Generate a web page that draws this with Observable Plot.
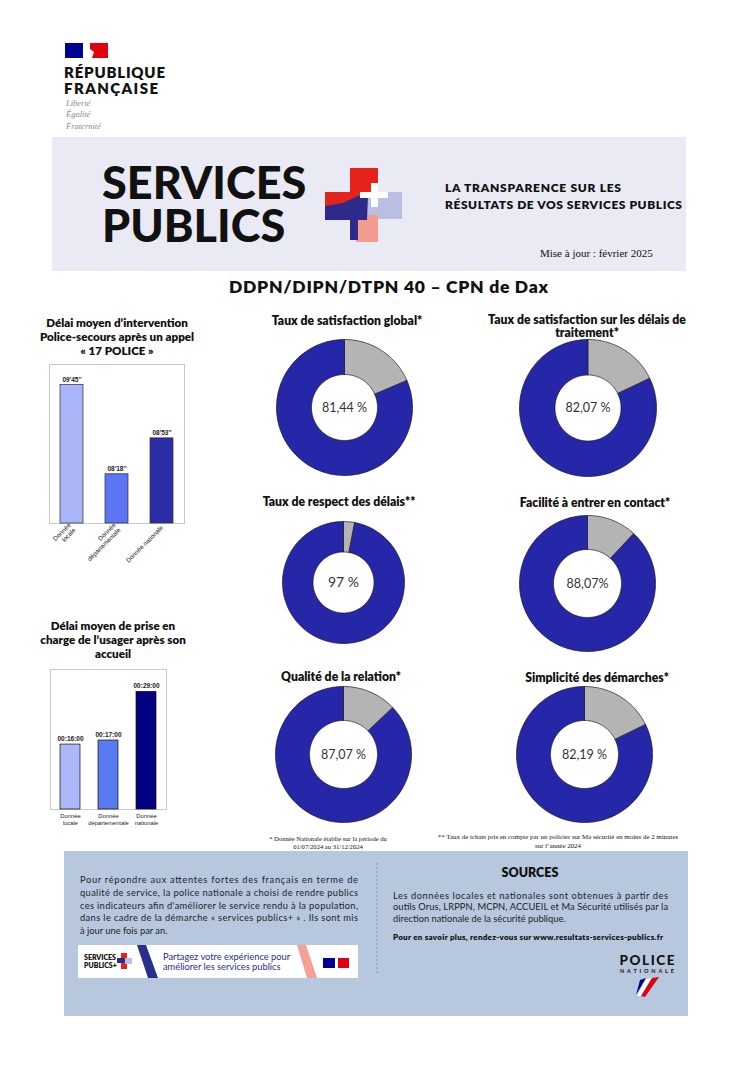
<!DOCTYPE html>
<html lang="fr"><head><meta charset="utf-8">
<script src="https://cdn.jsdelivr.net/npm/d3@7"></script>
<script src="https://cdn.jsdelivr.net/npm/@observablehq/plot@0.6"></script>
<style>
html,body{margin:0;padding:0;background:#fff;}
#page{position:relative;width:751px;height:1070px;overflow:hidden;font-family:Lato,"Open Sans",sans-serif;}
#page svg{position:absolute;overflow:visible;}
#sp{position:absolute;left:102px;top:161px;width:215px;font:900 45px/43px Lato,"Open Sans",sans-serif;letter-spacing:0px;color:#111;}
</style></head>
<body><div id="page"></div>
<script>
// ---------- DATA ----------
const barCats1 = ["Donnée\nlocale", "Donnée\ndépartementale", "Donnée nationale"];
const barLabels1 = ["09'45''", "08'18''", "08'53''"];
const barSeconds1 = [585, 498, 533];
const barDomain1 = [450, 605];
const barColors1 = ["#a9b5f7", "#5b75f3", "#2a2da6"];

const barCats2 = ["Donnée\nlocale", "Donnée\ndépartementale", "Donnée\nnationale"];
const barLabels2 = ["00:16:00", "00:17:00", "00:29:00"];
const barMinutes2 = [16, 17, 29];
const barDomain2 = [0, 34.5];
const barColors2 = ["#aab8f8", "#5a7af0", "#000080"];

const donutTitles = [
  ["Taux de satisfaction global*"],
  ["Taux de satisfaction sur les délais de", "traitement*"],
  ["Taux de respect des délais**"],
  ["Facilité à entrer en contact*"],
  ["Qualité de la relation*"],
  ["Simplicité des démarches*"]
];
const donutValues = [81.44, 82.07, 97, 88.07, 87.07, 82.19];
const donutLabels = ["81,44 %", "82,07 %", "97 %", "88,07%", "87,07 %", "82,19 %"];
const donutParts = ["part", "reste"];
const donutColors = ["#2626a8", "#b4b4b4"];

// ---------- LAYOUT ----------
const donutLayout = [
  {cx: 344, cy: 407, r: 68, ri: 33, tx: 347, ty: 325, fs: 12.5},
  {cx: 587.5, cy: 407, r: 68.5, ri: 33, tx: 587, ty: 324, fs: 12.5},
  {cx: 343, cy: 582, r: 61, ri: 30.5, tx: 339, ty: 506, fs: 14},
  {cx: 587, cy: 583, r: 68, ri: 34, tx: 595, ty: 507, fs: 12.5},
  {cx: 343, cy: 754, r: 68, ri: 34, tx: 341, ty: 681, fs: 12.5},
  {cx: 584, cy: 754, r: 68, ri: 34, tx: 597, ty: 682, fs: 12.5}
];

const page = document.getElementById("page");
const F = "Lato, 'Open Sans', sans-serif";
const SERIF = "'Liberation Serif', 'DejaVu Serif', serif";

function attrs(o) {
  const a = [`font-size="${o.size || 12}"`, `font-weight="${o.weight || 400}"`,
    `font-family="${o.family || F}"`, `fill="${o.fill || '#111'}"`,
    `text-anchor="${o.anchor || 'start'}"`];
  if (o.style) a.push(`font-style="${o.style}"`);
  if (o.ls) a.push(`letter-spacing="${o.ls}"`);
  return a.join(" ");
}
function T(x, y, s, o = {}) {
  const len = o.len ? ` textLength="${o.len}" lengthAdjust="spacing"` : "";
  return `<text x="${x}" y="${y}" ${attrs(o)}${len}>${s}</text>`;
}
function T2(lines, o = {}) {
  const sp = lines.map(l => `<tspan x="${l.x}" y="${l.y}"${l.len ? ` textLength="${l.len}" lengthAdjust="spacing"` : ""}>${l.s}</tspan>`).join("");
  return `<text ${attrs(o)}>${sp}</text>`;
}

let bg = "";
// République française bloc
bg += `<rect x="65" y="43" width="18" height="15" fill="#000091"/>`;
bg += `<path d="M90,43 H108 V58 H92 L94,52 L90,49 Z" fill="#e1000f"/>`;
bg += T2([{x: 64, y: 78, s: "RÉPUBLIQUE", len: 101}, {x: 64, y: 94, s: "FRANÇAISE", len: 94}], {size: 15, weight: 800});
bg += T2([{x: 66, y: 106, s: "Liberté"}, {x: 66, y: 117, s: "Égalité"}, {x: 66, y: 129, s: "Fraternité"}],
  {size: 8.5, family: SERIF, style: "italic", fill: "#8a8a8a"});

// Banner
bg += `<rect x="52" y="137" width="634" height="134" fill="#e9eaf3"/>`;
// cross logo
bg += `<rect x="350" y="168" width="28" height="26" fill="#e5231b"/>`;
bg += `<rect x="325" y="192" width="35" height="16" fill="#e5231b"/>`;
bg += `<rect x="367" y="192" width="35" height="27" fill="#b9bfe2"/>`;
bg += `<rect x="356" y="215" width="22" height="27" fill="#f19b91"/>`;
bg += `<path d="M325,206 L343,203 L358,196 L368,196 L367,220 L358,220 L358,240 L350,240 L350,220 L325,220 Z" fill="#2d2a8c"/>`;
bg += `<rect x="360" y="192" width="28" height="6" fill="#fff"/>`;
bg += `<rect x="371" y="183" width="7" height="24" fill="#fff"/>`;
bg += T2([{x: 445, y: 192, s: "LA TRANSPARENCE SUR LES", len: 176}, {x: 445, y: 209, s: "RÉSULTATS DE VOS SERVICES PUBLICS", len: 237}], {size: 12, weight: 800});
bg += T(540, 257, "Mise à jour : février 2025", {size: 11, family: SERIF});

// Main title
bg += T(229, 293, "DDPN/DIPN/DTPN 40 – CPN de Dax", {size: 17.5, weight: 800, len: 319});

// Bar chart titles
bg += T2([{x: 117, y: 327, s: "Délai moyen d’intervention"}, {x: 117, y: 341, s: "Police-secours après un appel"}, {x: 117, y: 355, s: "« 17 POLICE »"}],
  {size: 11.6, weight: 800, anchor: "middle"});
bg += T2([{x: 113, y: 630, s: "Délai moyen de prise en"}, {x: 113, y: 644, s: "charge de l’usager après son"}, {x: 113, y: 658, s: "accueil"}],
  {size: 11.6, weight: 800, anchor: "middle"});

// Donut titles
donutTitles.forEach((lines, i) => {
  const L = donutLayout[i];
  bg += T2(lines.map((s, j) => ({x: L.tx, y: L.ty + j * 13, s})), {size: 12.2, weight: 800, anchor: "middle"});
});

// Footnotes
bg += T2([{x: 328, y: 841, s: "* Donnée Nationale établie sur la période du"}, {x: 328, y: 849, s: "01/07/2024 au 31/12/2024"}],
  {size: 6.6, family: SERIF, anchor: "middle"});
bg += T2([{x: 558, y: 839, s: "** Taux de tchats pris en compte par un policier sur Ma sécurité en moins de 2 minutes"}, {x: 558, y: 848, s: "sur l’année 2024"}],
  {size: 6.9, family: SERIF, anchor: "middle"});

// Footer
bg += `<rect x="64" y="851" width="624" height="165" fill="#b6c7de"/>`;
const leftLines = [
  "Pour répondre aux attentes fortes des français en terme de",
  "qualité de service, la police nationale a choisi de rendre publics",
  "ces indicateurs afin d'améliorer le service rendu à la population,",
  "dans le cadre de la démarche « services publics+ » . Ils sont mis",
  "à jour une fois par an."
];
bg += T2(leftLines.map((s, i) => ({x: 80, y: 883 + i * 12.8, s, len: i < 4 ? 278 : null})), {size: 9.3, fill: "#1e1e1e"});
// white banner
bg += `<rect x="78" y="945" width="280" height="33" fill="#fff"/>`;
bg += T2([{x: 84, y: 960, s: "SERVICES"}, {x: 84, y: 968, s: "PUBLICS+"}], {size: 7, weight: 800});
bg += `<rect x="121" y="953" width="6" height="16" fill="#e5231b"/><rect x="117" y="958" width="14" height="5" fill="#2d2a8c"/><rect x="125" y="958" width="7" height="6" fill="#b9bfe2"/>`;
bg += `<path d="M137,945 L146,945 L158,978 L148,978 Z" fill="#2a2e8c"/>`;
bg += `<path d="M297,945 L306,945 L317,978 L307,978 Z" fill="#f4a195"/>`;
bg += T2([{x: 163, y: 960, s: "Partagez votre expérience pour"}, {x: 163, y: 970, s: "améliorer les services publics"}], {size: 9.3, fill: "#2a2d8f"});
bg += `<rect x="323" y="958" width="12" height="10" fill="#000091"/><rect x="338" y="958" width="11" height="10" fill="#e1000f"/>`;
// divider
bg += `<line x1="377" y1="863" x2="377" y2="975" stroke="#7b8797" stroke-width="0.8" stroke-dasharray="2,2"/>`;
bg += T(530, 877, "SOURCES", {size: 12.5, weight: 800, anchor: "middle"});
const rightLines = [
  "Les données locales et nationales sont obtenues à partir des",
  "outils Orus, LRPPN, MCPN, ACCUEIL et Ma Sécurité utilisés par la",
  "direction nationale de la sécurité publique."
];
bg += T2(rightLines.map((s, i) => ({x: 393, y: 899 + i * 11.3, s, len: i < 2 ? 275 : null})), {size: 9.3, fill: "#1e1e1e"});
bg += T(393, 940, "Pour en savoir plus, rendez-vous sur www.resultats-services-publics.fr", {size: 8, weight: 800, len: 270});
// Police nationale logo
bg += T(647, 965, "POLICE", {size: 13.5, weight: 900, anchor: "middle", len: 55});
bg += T(647, 973, "NATIONALE", {size: 5.5, weight: 700, anchor: "middle", len: 54});
bg += `<path d="M640,980 L646,978 L636,995 Z" fill="#000091"/><path d="M646,979 L652,978 L641,996 L637,996 Z" fill="#fff"/><path d="M652,978 L659,977 L645,997 L641,996 Z" fill="#e1000f"/>`;

const bgSvg = document.createElementNS("http://www.w3.org/2000/svg", "svg");
bgSvg.setAttribute("width", 751); bgSvg.setAttribute("height", 1070);
bgSvg.style.left = "0px"; bgSvg.style.top = "0px";
bgSvg.innerHTML = bg;
page.appendChild(bgSvg);

// big banner wordmark as one wrapping HTML text
const sp = document.createElement("div");
sp.id = "sp";
sp.textContent = "SERVICES PUBLICS";
page.appendChild(sp);

function place(el, left, top) {
  el.style.position = "absolute";
  el.style.left = left + "px";
  el.style.top = top + "px";
  el.style.background = "transparent";
  el.style.maxWidth = "none";
  page.appendChild(el);
}

// ---------- BAR CHART 1 ----------
const d1 = barCats1.map((c, i) => ({cat: c, v: barSeconds1[i], label: barLabels1[i]}));
place(Plot.plot({
  width: 160, height: 220, marginLeft: 9, marginRight: 16, marginTop: 9, marginBottom: 52,
  x: {domain: barCats1, paddingInner: 0.5, paddingOuter: 0.25},
  y: {domain: barDomain1, axis: null},
  color: {domain: barCats1, range: barColors1},
  style: {fontFamily: "'Liberation Sans', Arial, sans-serif", background: "transparent"},
  marks: [
    Plot.frame({stroke: "#c9c9c9"}),
    Plot.barY(d1, {x: "cat", y1: barDomain1[0], y2: "v", fill: "cat", stroke: "#2b2b3a", strokeWidth: 0.7}),
    Plot.text(d1, {x: "cat", y: "v", text: "label", dy: -5, fontSize: 6.5, fontWeight: "bold", fill: "#222"}),
    Plot.axisX({tickRotate: -45, tickSize: 0, tickPadding: 3, fontSize: 6.3, lineHeight: 1.1, label: null, fill: "#222"})
  ]
}), 40, 355);

// ---------- BAR CHART 2 ----------
const d2 = barCats2.map((c, i) => ({cat: c, v: barMinutes2[i], label: barLabels2[i]}));
place(Plot.plot({
  width: 140, height: 180, marginLeft: 10, marginRight: 14, marginTop: 9, marginBottom: 31,
  x: {domain: barCats2, paddingInner: 0.48, paddingOuter: 0.24},
  y: {domain: barDomain2, axis: null},
  color: {domain: barCats2, range: barColors2},
  style: {fontFamily: "'Liberation Sans', Arial, sans-serif", background: "transparent"},
  marks: [
    Plot.frame({stroke: "#c9c9c9"}),
    Plot.barY(d2, {x: "cat", y: "v", fill: "cat", stroke: "#111", strokeWidth: 0.7}),
    Plot.text(d2, {x: "cat", y: "v", text: "label", dy: -6, fontSize: 6.5, fontWeight: "bold", fill: "#222"}),
    Plot.axisX({tickSize: 0, tickPadding: 4, fontSize: 5.8, lineHeight: 1.15, label: null, fill: "#222"})
  ]
}), 40, 660);

// ---------- DONUTS ----------
donutValues.forEach((v, i) => {
  const L = donutLayout[i];
  const g = (100 - v) / 100 * 2 * Math.PI;
  const k = L.ri / L.r;
  const slices = [{part: "reste", a0: 0, a1: g}, {part: "part", a0: g, a1: 2 * Math.PI}];
  const pts = [];
  for (const s of slices) {
    const n = Math.max(2, Math.ceil((s.a1 - s.a0) / (Math.PI / 180)));
    for (let j = 0; j <= n; j++) { const a = s.a0 + (s.a1 - s.a0) * j / n; pts.push({part: s.part, x: Math.sin(a), y: Math.cos(a)}); }
    for (let j = n; j >= 0; j--) { const a = s.a0 + (s.a1 - s.a0) * j / n; pts.push({part: s.part, x: k * Math.sin(a), y: k * Math.cos(a)}); }
  }
  const m = 2, size = 2 * L.r + 2 * m;
  place(Plot.plot({
    width: size, height: size, margin: m,
    x: {domain: [-1, 1], axis: null},
    y: {domain: [-1, 1], axis: null},
    color: {domain: donutParts, range: donutColors},
    style: {fontFamily: F, background: "transparent"},
    marks: [
      Plot.line(pts, {x: "x", y: "y", z: "part", fill: "part", stroke: "#151515", strokeWidth: 0.7, curve: "linear-closed"}),
      Plot.text([donutLabels[i]], {text: d => d, frameAnchor: "middle", fontSize: L.fs, fill: "#333"})
    ]
  }), L.cx - L.r - m, L.cy - L.r - m);
});
</script>
</body></html>
